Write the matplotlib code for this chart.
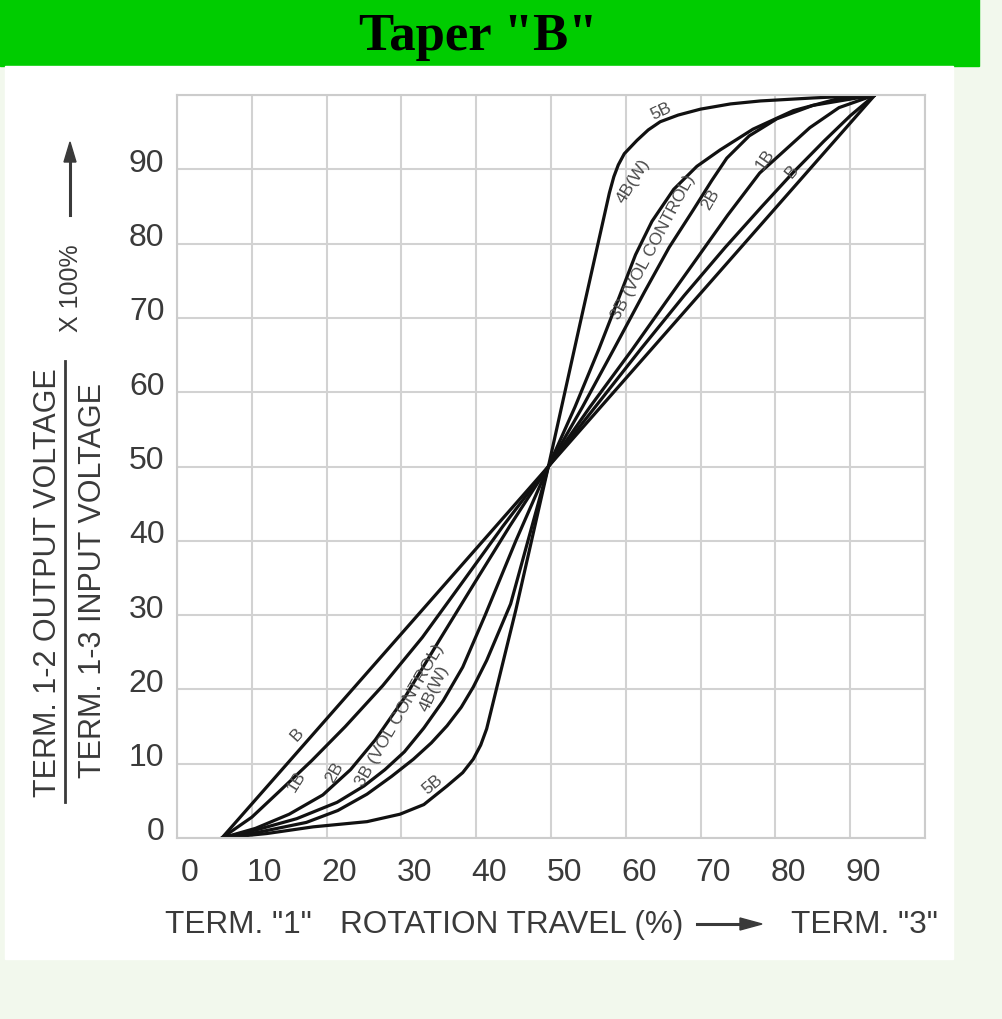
import matplotlib
matplotlib.use("Agg")
import matplotlib.pyplot as plt
import matplotlib.transforms as mtransforms
from matplotlib.patches import Rectangle

# rotation travel (%) vs output ratio (%) for each taper curve
b_x = [6, 49.65, 93.3]
b_y = [0, 50, 100]

b1_x = [6, 10.0, 13.6, 18.0, 22.5, 27.5, 32.8, 38.0, 43.6, 49.65, 55.9, 62.0, 67.8, 73.3, 78.2, 82.4, 86.5, 90.0, 93.3]
b1_y = [0, 2.8, 6.2, 10.4, 15.0, 20.5, 27.0, 34.2, 42.0, 50, 58.0, 65.8, 73.0, 79.5, 85.0, 89.6, 93.8, 97.2, 100]

b2_x = [6, 10.5, 15.0, 19.5, 23.2, 26.5, 30.5, 35.0, 39.7, 44.5, 49.65, 55.2, 60.9, 65.4, 69.5, 73.6, 77.9, 81.2, 84.6, 88.5, 93.3]
b2_y = [0, 1.3, 3.2, 5.8, 9.2, 13.2, 19.0, 26.5, 34.2, 42.0, 50, 58.0, 65.8, 72.2, 78.0, 83.8, 89.5, 92.5, 95.6, 98.3, 100]

b3_x = [6, 11, 16.0, 21.4, 25.0, 27.8, 30.4, 33.0, 35.6, 38.2, 41.2, 45.3, 49.65, 54.2, 58.4, 62.5, 65.8, 69.0, 71.5, 73.5, 76.5, 80.2, 85.0, 93.3]
b3_y = [0, 1.2, 2.6, 4.8, 7.0, 9.2, 11.6, 14.8, 18.5, 23.0, 30, 40, 50, 58, 65.8, 73.5, 79.5, 84.5, 88.5, 91.5, 94.5, 96.8, 98.6, 100]

b4_x = [6, 11, 17.3, 21.5, 25.4, 28.7, 31.6, 34.0, 36.1, 38.0, 39.6, 41.4, 44.6, 49.65, 53.2, 56.4, 59.0, 61.3, 63.5, 66.4, 69.5, 72.6, 77.0, 82.4, 88.0, 93.3]
b4_y = [0, 0.8, 2.1, 3.7, 5.9, 8.3, 10.6, 12.8, 15.1, 17.6, 20.3, 23.9, 31.5, 50, 58, 65.8, 72.5, 78.5, 83.0, 87.3, 90.4, 92.6, 95.4, 97.9, 99.4, 100]

b5_x = [6, 12, 18.2, 25.4, 29.8, 33.0, 36.1, 38.2, 39.6, 40.6, 41.4, 45.3, 49.65, 53.9, 57.8, 58.4, 59.0, 59.8, 61.5, 63.0, 64.6, 67.0, 70.0, 74.0, 78.0, 85.0, 93.3]
b5_y = [0, 0.6, 1.5, 2.2, 3.2, 4.5, 7.0, 8.8, 10.6, 12.5, 14.7, 30.7, 50, 69.3, 86.8, 89.0, 90.6, 92.1, 93.9, 95.3, 96.4, 97.3, 98.1, 98.8, 99.2, 99.6, 100]

curves = [(b_x, b_y), (b1_x, b1_y), (b2_x, b2_y), (b3_x, b3_y), (b4_x, b4_y), (b5_x, b5_y)]

# curve labels: text, x, y, angle
curve_labels = [
    ("5B", 64.7, 97.9, 25), ("4B(W)", 61.0, 88.5, 58), ("3B (VOL CONTROL)", 63.7, 79.6, 62),
    ("2B", 71.3, 86.0, 60), ("1B", 78.6, 91.4, 55), ("B", 82.2, 89.8, 50),
    ("B", 16.0, 14.0, 48), ("1B", 16.0, 7.7, 58), ("2B", 21.1, 8.9, 60),
    ("3B (VOL CONTROL)", 29.8, 16.7, 60), ("4B(W)", 34.4, 20.3, 65), ("5B", 34.2, 7.3, 40),
]

ticks = list(range(0, 101, 10))
tick_labels = [str(t) for t in ticks[:-1]] + [""]

W, H = 1003, 1020
fig = plt.figure(figsize=(W / 100, H / 100), dpi=100, facecolor="#f2f8ed")

def px(x0, y0, x1, y1):
    # pixel box -> figure fraction rect
    return (x0 / W, 1 - y1 / H, (x1 - x0) / W, (y1 - y0) / H)

r = px(0, 0, 979, 67)
fig.add_artist(Rectangle(r[:2], r[2], r[3], transform=fig.transFigure, color="#00cc00", zorder=0))
r = px(5, 67, 953, 960)
fig.add_artist(Rectangle(r[:2], r[2], r[3], transform=fig.transFigure, color="white", zorder=0))

fig.text(478 / W, 1 - 37 / H, 'Taper "B"', family="Liberation Serif", weight="bold",
         fontsize=38, ha="center", va="center", color="black")

ax = fig.add_axes(px(177, 96, 925, 839))
ax.set_facecolor("white")
for xs, ys in curves:
    ax.plot(xs, ys, color="#111111", lw=2.3, solid_capstyle="round", solid_joinstyle="round")

for txt, x, y, ang in curve_labels:
    ax.text(x, y, txt, rotation=ang, rotation_mode="anchor", ha="center", va="center",
            fontsize=12.5, color="#4a4a4a", family="Liberation Sans")

ax.set_xlim(0, 100)
ax.set_ylim(0, 100)
ax.set_xticks(ticks)
ax.set_yticks(ticks)
ax.set_xticklabels(tick_labels, fontsize=23, color="#3a3a3a", family="Liberation Sans")
ax.set_yticklabels(tick_labels, fontsize=23, color="#3a3a3a", family="Liberation Sans")
ax.tick_params(length=0)
ax.tick_params(axis="x", pad=14)
ax.tick_params(axis="y", pad=9)
ax.grid(True, color="#d2d2d2", lw=1.5)
ax.set_axisbelow(True)
for s in ax.spines.values():
    s.set_color("#cccccc")
    s.set_linewidth(1.5)

# shift tick labels like the original scan
off_x = mtransforms.ScaledTranslation(0.13, 0, fig.dpi_scale_trans)
for lab in ax.get_xticklabels():
    lab.set_transform(lab.get_transform() + off_x)
off_y = mtransforms.ScaledTranslation(0, 0.10, fig.dpi_scale_trans)
for lab in ax.get_yticklabels():
    lab.set_transform(lab.get_transform() + off_y)

# x axis caption
cap = dict(fontsize=22.7, color="#3a3a3a", family="Liberation Sans", va="center")
fig.text(165 / W, 1 - 925 / H, 'TERM. "1"', ha="left", **cap)
fig.text(340 / W, 1 - 925 / H, "ROTATION TRAVEL (%)", ha="left", **cap)
fig.text(938 / W, 1 - 925 / H, 'TERM. "3"', ha="right", **cap)
fig.add_artist(plt.Line2D([697 / W, 745 / W], [1 - 925 / H] * 2, color="#3a3a3a", lw=2.2))
fig.add_artist(plt.Polygon([[740 / W, 1 - 919 / H], [762 / W, 1 - 925 / H], [740 / W, 1 - 931 / H]],
                           closed=True, color="#3a3a3a", transform=fig.transFigure))

# y axis caption (fraction)
yl = dict(fontsize=22, color="#3a3a3a", family="Liberation Sans", rotation=90, ha="center", va="center")
fig.text(48 / W, 1 - 583 / H, "TERM. 1-2 OUTPUT VOLTAGE", **yl)
fig.text(93 / W, 1 - 581 / H, "TERM. 1-3 INPUT VOLTAGE", **yl)
fig.add_artist(plt.Line2D([65 / W] * 2, [1 - 803 / H, 1 - 362 / H], color="#3a3a3a", lw=2))
yl["fontsize"] = 18
fig.text(71 / W, 1 - 288 / H, "X 100%", **yl)
fig.add_artist(plt.Line2D([70 / W] * 2, [1 - 216 / H, 1 - 160 / H], color="#3a3a3a", lw=2.2))
fig.add_artist(plt.Polygon([[64 / W, 1 - 163 / H], [70 / W, 1 - 143 / H], [76 / W, 1 - 163 / H]],
                           closed=True, color="#3a3a3a", transform=fig.transFigure))

fig.savefig("out.png", dpi=100, facecolor=fig.get_facecolor())
